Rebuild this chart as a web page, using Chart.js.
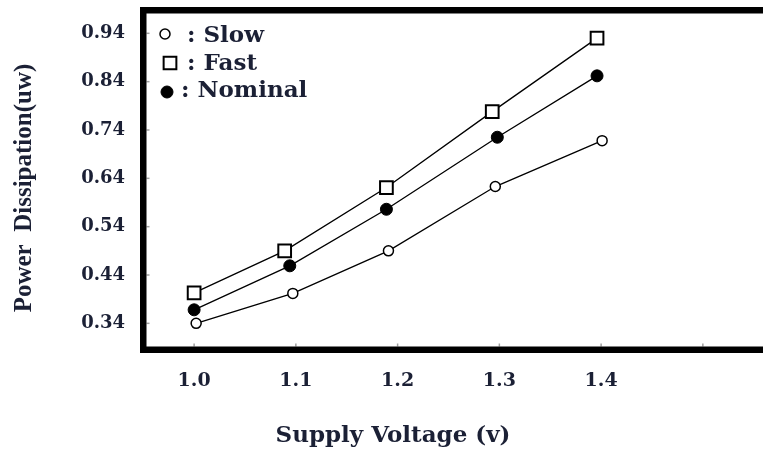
<!DOCTYPE html>
<html>
<head>
<meta charset="utf-8">
<script src="https://cdn.jsdelivr.net/npm/chart.js@4/dist/chart.umd.min.js"></script>
<style>
  html, body { margin: 0; padding: 0; background: #fff; overflow: hidden; }
  #chart { display: block; }
</style>
</head>
<body>
<canvas id="chart" width="763" height="450"></canvas>
<script>
// values
const slowVolts = [1.002, 1.097, 1.191, 1.296, 1.401];
const slowPower = [0.340, 0.402, 0.490, 0.623, 0.718];

const fastVolts = [1.0, 1.089, 1.189, 1.293, 1.396];
const fastPower = [0.403, 0.490, 0.621, 0.778, 0.930];

const nominalVolts = [1.0, 1.094, 1.189, 1.298, 1.396];
const nominalPower = [0.368, 0.459, 0.576, 0.725, 0.852];

const xTicks = [1.0, 1.1, 1.2, 1.3, 1.4, 1.5];
const xTickLabels = ["1.0", "1.1", "1.2", "1.3", "1.4", ""];
const yTicks = [0.34, 0.44, 0.54, 0.64, 0.74, 0.84, 0.94];
const yTickLabels = ["0.34", "0.44", "0.54", "0.64", "0.74", "0.84", "0.94"];

const textColor = "#1b2035";

function toPoints(xs, ys) {
  return xs.map((x, i) => ({ x: x, y: ys[i] }));
}

function noOverflow(scale) {
  scale.paddingTop = 0;
  scale.paddingBottom = 0;
  scale.paddingLeft = 0;
  scale.paddingRight = 0;
}

// frame, inner tick marks, legend and axis titles
const decorations = {
  id: "decorations",
  afterDraw(chart) {
    const ctx = chart.ctx;
    const area = chart.chartArea;
    const xs = chart.scales.x;
    const ys = chart.scales.y;

    ctx.save();
    // small grey tick marks inside the frame
    ctx.strokeStyle = "#a0a0a0";
    ctx.lineWidth = 1.5;
    yTicks.forEach((v) => {
      const py = ys.getPixelForValue(v);
      ctx.beginPath();
      ctx.moveTo(area.left, py);
      ctx.lineTo(area.left + 3, py);
      ctx.stroke();
    });
    xTicks.forEach((v) => {
      const px = xs.getPixelForValue(v);
      ctx.beginPath();
      ctx.moveTo(px, area.bottom);
      ctx.lineTo(px, area.bottom - 3);
      ctx.stroke();
    });

    // thick black frame (right side is cut off in the original)
    ctx.strokeStyle = "#000";
    ctx.lineWidth = 6.5;
    ctx.beginPath();
    ctx.moveTo(chart.width, area.top - 3.25);
    ctx.lineTo(area.left - 3.25, area.top - 3.25);
    ctx.lineTo(area.left - 3.25, area.bottom + 3.25);
    ctx.lineTo(chart.width, area.bottom + 3.25);
    ctx.stroke();

    // legend inside the plot
    const legendRows = [
      { ds: 0, mx: 165, my: 34, tx: 187, ty: 36 },
      { ds: 1, mx: 170, my: 63, tx: 187, ty: 64 },
      { ds: 2, mx: 167, my: 92, tx: 181, ty: 91 },
    ];
    legendRows.forEach((row) => {
      const d = chart.data.datasets[row.ds];
      ctx.fillStyle = d.pointBackgroundColor;
      ctx.strokeStyle = d.pointBorderColor;
      ctx.lineWidth = d.pointBorderWidth;
      Chart.helpers.drawPoint(ctx, {
        pointStyle: d.pointStyle,
        radius: d.pointRadius,
        rotation: 0,
        borderWidth: d.pointBorderWidth,
      }, row.mx, row.my);
      ctx.fillStyle = textColor;
      ctx.font = 'bold 23px "DejaVu Serif"';
      ctx.textAlign = "left";
      ctx.textBaseline = "middle";
      ctx.fillText(": " + d.label, row.tx, row.ty);
    });

    // axis titles
    ctx.fillStyle = textColor;
    ctx.font = 'bold 23px "DejaVu Serif"';
    ctx.textAlign = "center";
    ctx.textBaseline = "alphabetic";
    ctx.fillText("Supply Voltage (v)", 393, 442);

    ctx.translate(31, 188);
    ctx.rotate(-Math.PI / 2);
    ctx.font = 'bold 25px "Liberation Serif"';
    ctx.fillText("Power  Dissipation(uw)", 0, 0);
    ctx.restore();
  },
};

const chart = new Chart(document.getElementById("chart"), {
  type: "line",
  data: {
    datasets: [
      {
        label: "Slow",
        data: toPoints(slowVolts, slowPower),
        borderColor: "#000",
        borderWidth: 1.3,
        pointStyle: "circle",
        pointRadius: 5,
        pointBackgroundColor: "#fff",
        pointBorderColor: "#000",
        pointBorderWidth: 1.5,
      },
      {
        label: "Fast",
        data: toPoints(fastVolts, fastPower),
        borderColor: "#000",
        borderWidth: 1.3,
        pointStyle: "rect",
        pointRadius: 9,
        pointBackgroundColor: "#fff",
        pointBorderColor: "#000",
        pointBorderWidth: 2,
      },
      {
        label: "Nominal",
        data: toPoints(nominalVolts, nominalPower),
        borderColor: "#000",
        borderWidth: 1.3,
        pointStyle: "circle",
        pointRadius: 6,
        pointBackgroundColor: "#000",
        pointBorderColor: "#000",
        pointBorderWidth: 1,
      },
    ],
  },
  options: {
    responsive: false,
    animation: false,
    devicePixelRatio: 1,
    layout: {
      padding: { top: 13.5, left: 0, right: 0, bottom: 0 },
    },
    plugins: {
      legend: { display: false },
      tooltip: { enabled: false },
    },
    scales: {
      x: {
        type: "linear",
        min: 0.9532,
        max: 1.5483,
        grid: { display: false, drawTicks: false },
        border: { display: false },
        afterBuildTicks: (scale) => {
          scale.ticks = xTicks.map((v) => ({ value: v }));
        },
        afterFit: (scale) => {
          scale.height = 103.5;
          noOverflow(scale);
        },
        ticks: {
          padding: 23,
          maxRotation: 0,
          autoSkip: false,
          color: textColor,
          font: { family: "DejaVu Serif", size: 19, weight: "bold" },
          callback: (value, index) => xTickLabels[index],
        },
      },
      y: {
        min: 0.2921,
        max: 0.981,
        grid: { display: false, drawTicks: false },
        border: { display: false },
        afterBuildTicks: (scale) => {
          scale.ticks = yTicks.map((v) => ({ value: v }));
        },
        afterFit: (scale) => {
          scale.width = 146.5;
          noOverflow(scale);
        },
        ticks: {
          padding: 21.5,
          autoSkip: false,
          color: textColor,
          font: { family: "DejaVu Serif", size: 18, weight: "bold" },
          callback: (value, index) => yTickLabels[index],
        },
      },
    },
  },
  plugins: [decorations],
});
</script>
</body>
</html>
